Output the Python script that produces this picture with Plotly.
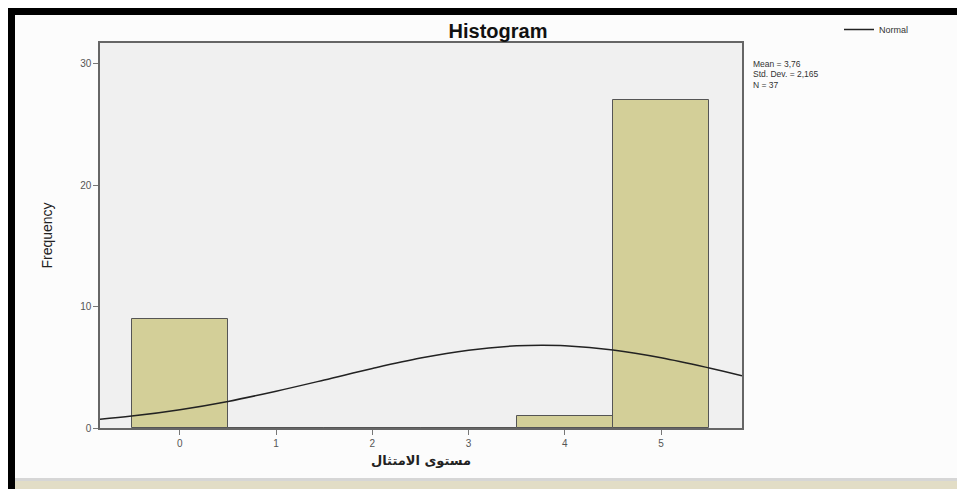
import plotly.graph_objects as go

# Histogram data (bin centers and frequencies)
bin_centers = [0, 1, 2, 3, 4, 5]
frequencies = [9, 0, 0, 0, 1, 27]

# Normal curve points
curve_x = [-0.83, -0.5, 0, 0.5, 1, 1.5, 2, 2.5, 3, 3.5, 3.76, 4, 4.5, 5, 5.5, 5.84]
curve_y = [0.72, 0.98, 1.51, 2.19, 3.03, 3.95, 4.90, 5.76, 6.41, 6.77, 6.82, 6.78, 6.43, 5.79, 4.94, 4.30]

x_ticks = [0, 1, 2, 3, 4, 5]
y_ticks = [0, 10, 20, 30]

stats_lines = ["Mean = 3,76", "Std. Dev. = 2,165", "N = 37"]

# the page body adds an 8px margin, so the figure is drawn 8px in from the window corner
W, H = 957, 481
L, R, T, B = 92, 734, 35, 420  # plot area in figure pixels


def px(xp):
    return (xp - L) / (R - L)


def py(yp):
    return (B - yp) / (B - T)


fig = go.Figure()
fig.add_trace(go.Bar(
    x=bin_centers, y=frequencies, width=1,
    marker=dict(color="#d3cf98", line=dict(color="#555555", width=1)),
    showlegend=False, hoverinfo="x+y",
))
fig.add_trace(go.Scatter(
    x=curve_x, y=curve_y, mode="lines", name="Normal",
    line=dict(color="#222222", width=1.5, shape="spline"),
))

shapes = [
    # top black band
    dict(type="rect", xref="paper", yref="paper", x0=px(0), x1=px(W), y0=py(7), y1=py(0),
         fillcolor="#000000", line=dict(width=0), layer="above"),
    # left black band
    dict(type="rect", xref="paper", yref="paper", x0=px(0), x1=px(7), y0=py(H), y1=py(0),
         fillcolor="#000000", line=dict(width=0), layer="above"),
    # bottom gray line
    dict(type="rect", xref="paper", yref="paper", x0=px(7), x1=px(W), y0=py(473), y1=py(470),
         fillcolor="#d6d6d6", line=dict(width=0), layer="above"),
    # bottom beige band
    dict(type="rect", xref="paper", yref="paper", x0=px(7), x1=px(W), y0=py(H), y1=py(473),
         fillcolor="#e2ddc6", line=dict(width=0), layer="above"),
]

annotations = []
for i, s in enumerate(stats_lines):
    annotations.append(dict(
        text=s, xref="paper", yref="paper", x=px(743), y=py(56 + 10.5 * i),
        xanchor="left", yanchor="middle", showarrow=False,
        font=dict(family="Liberation Sans, Arial", size=8.5, color="#333333"),
    ))

fig.update_layout(
    width=W, height=H,
    margin=dict(l=L, r=W - R, t=T, b=H - B, autoexpand=False),
    paper_bgcolor="#fcfcfc",
    plot_bgcolor="#f0f0f0",
    bargap=0,
    title=dict(text="<b>Histogram</b>", x=490 / W, xanchor="center", y=1 - 23 / H, yanchor="middle",
               font=dict(family="Liberation Sans, Arial", size=20, color="#111111")),
    legend=dict(x=px(831), y=py(7), xanchor="left", yanchor="top", bgcolor="rgba(0,0,0,0)",
                font=dict(family="Liberation Sans, Arial", size=9, color="#333333")),
    shapes=shapes,
    annotations=annotations,
    font=dict(family="Liberation Sans, Arial", color="#444444"),
)

fig.update_xaxes(
    range=[-0.83, 5.84], tickvals=x_ticks, ticktext=[str(v) for v in x_ticks],
    ticks="outside", ticklen=5, tickcolor="#777777", tickfont=dict(size=10, color="#555555"),
    showgrid=False, zeroline=False, showline=True, linecolor="#666666", linewidth=1.5, mirror=True,
    title=dict(text="<b>مستوى الامتثال</b>", standoff=8,
               font=dict(family="DejaVu Sans", size=13, color="#222222")),
)
fig.update_yaxes(
    range=[0, 31.7], tickvals=y_ticks, ticktext=[str(v) for v in y_ticks],
    ticks="outside", ticklen=5, tickcolor="#777777", tickfont=dict(size=10, color="#555555"),
    showgrid=False, zeroline=False, showline=True, linecolor="#666666", linewidth=1.5, mirror=True,
    title=dict(text="Frequency", standoff=24,
               font=dict(family="Liberation Sans Narrow, Liberation Sans, Arial", size=14, color="#222222")),
)

fig.write_html("out.html")
